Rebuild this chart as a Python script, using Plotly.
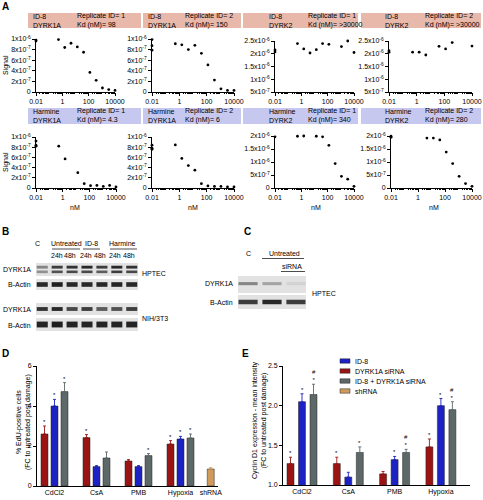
import plotly.graph_objects as go

W, H = 483, 500
FONT = "Liberation Sans"


def px(x):
    return x / W


def py(y):
    return 1 - y / H


# ---------------- Panel A data ----------------
conc_nM = [0.508, 1.52, 4.57, 13.7, 41.2, 123.5, 370.4, 1111, 3333, 10000]
zero_conc = 0.01  # no-compound controls are drawn at the axis origin

a_compound = ["ID-8", "ID-8", "ID-8", "ID-8", "Harmine", "Harmine", "Harmine", "Harmine"]
a_target = ["DYRK1A", "DYRK1A", "DYRK2", "DYRK2", "DYRK1A", "DYRK1A", "DYRK2", "DYRK2"]
a_replicate = ["1", "2", "1", "2", "1", "2", "1", "2"]
a_kd = ["98", "150", ">30000", ">30000", "4.3", "6", "340", "280"]

a_ctrl = [
    [9.8e-7, 9.6e-7],
    [9.9e-7, 8.75e-7, 7.9e-7],
    [2.15e-6, 2.07e-6],
    [2.12e-6, 2.06e-6],
    [9.2e-7, 8.4e-7, 8.2e-7],
    [8.4e-7, 7.8e-7, 7.6e-7],
    [2.01e-6, 1.97e-6],
    [1.99e-6, 1.95e-6],
]
a_signal = [
    [9.9e-7, 8.4e-7, 9.2e-7, 8.5e-7, 7.5e-7, 3.7e-7, 2.2e-7, 7.5e-8, 4.5e-8, 3.0e-8],
    [9.1e-7, 8.9e-7, 8.0e-7, 8.8e-7, 7.3e-7, 5.1e-7, 2.25e-7, 6.0e-8, 3.0e-8, 3.0e-8],
    [2.4e-6, 2.19e-6, 2.03e-6, 2.16e-6, 2.4e-6, 2.37e-6, 2.55e-6, 2.28e-6, 2.5e-6, 2.05e-6],
    [2.06e-6, 2.06e-6, 1.95e-6, 2.58e-6, 2.29e-6, 2.19e-6, 2.44e-6, None, 2.56e-6, 2.3e-6],
    [8.2e-7, 5.7e-7, None, 3.0e-7, 8.5e-8, 4.5e-8, 5.0e-8, 3.0e-8, 5.0e-8, 2.0e-8],
    [8.45e-7, 5.8e-7, 4.4e-7, 3.5e-7, 8.5e-8, 4.0e-8, 3.0e-8, 3.0e-8, 2.0e-8, 2.0e-8],
    [1.99e-6, 2.0e-6, None, 1.99e-6, 1.97e-6, 1.64e-6, 9.4e-7, 4.5e-7, 3.4e-7, 6.5e-8],
    [None, None, 1.92e-6, 1.92e-6, 1.85e-6, 1.38e-6, 9.4e-7, 4.5e-7, 1.7e-7, 6.5e-8],
]

a_xtickvals = [0.01, 1, 100, 10000]
a_xticktext = ["0.01", "1", "100", "10000"]

yt_1e6 = [0, 2e-7, 4e-7, 6e-7, 8e-7, 1e-6]
yt_1e6_text = ["0", "2x10<sup>-7</sup>", "4x10<sup>-7</sup>", "6x10<sup>-7</sup>",
               "8x10<sup>-7</sup>", "1x10<sup>-6</sup>"]
yt_25e6 = [5e-7, 1e-6, 1.5e-6, 2e-6, 2.5e-6]
yt_25e6_text = ["5x10<sup>-7</sup>", "1x10<sup>-6</sup>", "1.5x10<sup>-6</sup>",
                "2x10<sup>-6</sup>", "2.5x10<sup>-6</sup>"]
yt_2e6 = [0, 5e-7, 1e-6, 1.5e-6, 2e-6]
yt_2e6_text = ["0", "5x10<sup>-7</sup>", "1x10<sup>-6</sup>", "1.5x10<sup>-6</sup>",
               "2x10<sup>-6</sup>"]

# ---------------- Panel B / C blot data (band darkness 0..1) ----------------
b_lane_labels = ["C", "24h", "48h", "24h", "48h", "24h", "48h"]
b_group_labels = ["Untreated", "ID-8", "Harmine"]
b_hptec_dyrk_upper = [0.45, 0.8, 0.85, 0.9, 0.8, 0.9, 0.85]
b_hptec_dyrk_lower = [0.4, 0.7, 0.75, 0.75, 0.65, 0.8, 0.75]
b_hptec_actin = [0.9, 0.95, 0.9, 0.9, 0.9, 0.92, 0.9]
b_nih_dyrk = [0.85, 0.9, 0.75, 0.8, 0.65, 0.7, 0.8]
b_nih_actin = [0.92, 0.95, 0.92, 0.92, 0.92, 0.92, 0.92]

c_lane_labels = ["C", "Untreated", "siRNA"]
c_dyrk = [0.45, 0.3, 0.08]
c_actin = [0.8, 0.9, 0.8]

# ---------------- Panel D data ----------------
d_cats = ["CdCl2", "CsA", "PMB", "Hypoxia", "shRNA"]
d_red = [2.6, 2.42, 1.25, 2.1]
d_red_err = [0.4, 0.15, 0.07, 0.17]
d_blue = [4.0, 0.97, 0.97, 2.35]
d_blue_err = [0.33, 0.05, 0.05, 0.13]
d_gray = [4.72, 1.4, 1.52, 2.4]
d_gray_err = [0.45, 0.3, 0.1, 0.2]
d_tan = [0.85]
d_tan_err = [0.07]
d_red_mark = ["*", "*", "", "*"]
d_blue_mark = ["*", "", "", "*"]
d_gray_mark = ["*", "", "*", "*"]

# ---------------- Panel E data ----------------
e_cats = ["CdCl2", "CsA", "PMB", "Hypoxia"]
e_red = [1.27, 1.27, 1.14, 1.48]
e_red_err = [0.08, 0.08, 0.03, 0.1]
e_blue = [2.05, 1.1, 1.32, 2.0]
e_blue_err = [0.1, 0.06, 0.04, 0.09]
e_gray = [2.14, 1.41, 1.41, 1.95]
e_gray_err = [0.13, 0.07, 0.04, 0.1]
e_red_mark = ["*", "*", "", "*"]
e_blue_mark = ["*", "", "*", "*"]
e_gray_mark = ["#<br>*", "*", "#<br>*", "#<br>*"]

legend_names = ["ID-8", "DYRK1A siRNA", "ID-8 + DYRK1A siRNA", "shRNA"]

# ---------------- styles ----------------
RED = "#9b1414"
BLUE = "#1c22c4"
GRAY = "#5d6868"
TAN = "#d09a5c"
SALMON = "#e8b8ab"
LAVENDER = "#c6c8f0"

fig = go.Figure()
layout = dict(
    template="none",
    width=W, height=H, margin=dict(l=0, r=0, t=0, b=0),
    paper_bgcolor="white", plot_bgcolor="white", showlegend=False,
    barmode="overlay", font=dict(family=FONT, size=7, color="black"),
)
shapes = []
anns = []


def sfx(n):
    return "" if n == 1 else str(n)


def add_axes(n, x0, x1, ytop, ybot, xa, ya):
    layout["xaxis" + sfx(n)] = dict(domain=[px(x0), px(x1)], anchor="y" + sfx(n), **xa)
    layout["yaxis" + sfx(n)] = dict(domain=[py(ybot), py(ytop)], anchor="x" + sfx(n), **ya)


def text(x, y, s, size=7, xanchor="center", yanchor="middle", **kw):
    anns.append(dict(x=px(x), y=py(y), xref="paper", yref="paper", text=s, showarrow=False,
                     font=dict(size=size, family=FONT, color="black"),
                     xanchor=xanchor, yanchor=yanchor, **kw))


TF = dict(size=7, family=FONT, color="black")
AX = dict(showline=True, linecolor="black", linewidth=0.8, ticks="outside", ticklen=3,
          tickwidth=0.8, tickcolor="black", showgrid=False, zeroline=False,
          tickfont=TF, fixedrange=True)

# ---------------- Panel A ----------------
minor_vals = [m * 10 ** e for e in range(-2, 4) for m in range(2, 10)]
a_geom = [
    (36, 115, 39, 92, [0, 1e-6], yt_1e6, yt_1e6_text),
    (152, 234, 39, 92, [0, 1e-6], yt_1e6, yt_1e6_text),
    (275, 354, 41, 92, [5e-7, 2.5e-6], yt_25e6, yt_25e6_text),
    (389, 472, 41, 92, [5e-7, 2.5e-6], yt_25e6, yt_25e6_text),
    (36, 116, 137, 188, [0, 1e-6], yt_1e6, yt_1e6_text),
    (152, 234, 137, 188, [0, 1e-6], yt_1e6, yt_1e6_text),
    (275, 354, 136, 188, [0, 2e-6], yt_2e6, yt_2e6_text),
    (391, 472, 136, 188, [0, 2e-6], yt_2e6, yt_2e6_text),
]
header_boxes = [(28, 141), (143, 241), (243, 358), (361, 481)]
header_t1 = [3, 3, 24, 22]
header_t2 = [47, 40, 63, 62]

for i in range(8):
    n = i + 1
    x0, x1, yt, yb, yr, tv, tt = a_geom[i]
    add_axes(n, x0, x1, yt, yb,
             dict(AX, type="log", range=[-2, 4], tickvals=a_xtickvals, ticktext=a_xticktext,
                  ticklen=3,
                  minor=dict(tickvals=minor_vals, ticks="outside", ticklen=1.5,
                             tickcolor="black", tickwidth=0.6)),
             dict(AX, range=yr, tickvals=tv, ticktext=tt))
    fig.add_trace(go.Scatter(
        x=[zero_conc] * len(a_ctrl[i]) + conc_nM, y=a_ctrl[i] + a_signal[i],
        mode="markers", marker=dict(size=2.8, color="black"), cliponaxis=False,
        xaxis="x" + sfx(n), yaxis="y" + sfx(n), hoverinfo="skip"))

    # header boxes
    row = i // 4
    hx0, hx1 = header_boxes[i % 4]
    hy0, hy1 = (13, 28) if row == 0 else (108, 124)
    shapes.append(dict(type="rect", xref="paper", yref="paper", x0=px(hx0), x1=px(hx1),
                       y0=py(hy1), y1=py(hy0), fillcolor=SALMON if row == 0 else LAVENDER,
                       line=dict(width=0), layer="below"))
    yc = (hy0 + hy1) / 2
    text(hx0 + header_t1[i % 4], yc, f"{a_compound[i]}<br>{a_target[i]}", xanchor="left", align="left")
    text(hx0 + header_t2[i % 4], yc, f"Replicate ID= {a_replicate[i]}<br>Kd (nM)= {a_kd[i]}",
         xanchor="left", align="left")

text(6, 65, "Signal", textangle=-90)
text(6, 162, "Signal", textangle=-90)
for xc in [75, 193, 316, 434]:
    text(xc, 208, "nM")


# ---------------- Blots (B & C) ----------------
def blot(n, x0, x1, ytop, ybot, nl, bands, lane_w=0.74):
    # bands: list of (darkness list, center, thickness)
    add_axes(n, x0, x1, ytop, ybot,
             dict(visible=False, range=[-0.42, nl - 0.58], fixedrange=True),
             dict(visible=False, range=[0, 1], fixedrange=True))
    shapes.append(dict(type="rect", xref="x" + sfx(n) + " domain", yref="y" + sfx(n) + " domain",
                       x0=0, x1=1, y0=0, y1=1, fillcolor="#e2e2e2", line=dict(width=0),
                       layer="below"))
    xs, ys, bs, cs = [], [], [], []
    for dark, center, thick in bands:
        for j, d in enumerate(dark):
            xs.append(j)
            ys.append(thick)
            bs.append(center - thick / 2)
            cs.append(f"rgba(20,20,20,{d:.2f})")
    fig.add_trace(go.Bar(x=xs, y=ys, base=bs, width=lane_w, marker=dict(color=cs, line=dict(width=0)),
                         xaxis="x" + sfx(n), yaxis="y" + sfx(n), hoverinfo="skip"))


blot(9, 36, 138, 263, 276, 7, [(b_hptec_dyrk_upper, 0.68, 0.22), (b_hptec_dyrk_lower, 0.32, 0.2)])
blot(10, 36, 138, 279, 290, 7, [(b_hptec_actin, 0.5, 0.42)])
blot(11, 36, 138, 303, 315, 7, [(b_nih_dyrk, 0.5, 0.32)])
blot(12, 36, 138, 318, 331, 7, [(b_nih_actin, 0.5, 0.45)])
blot(13, 238, 306, 276, 293, 3, [(c_dyrk, 0.55, 0.18)], lane_w=0.8)
blot(14, 238, 306, 295, 309, 3, [(c_actin, 0.5, 0.32)], lane_w=0.8)

# B labels
text(37, 243, b_lane_labels[0])
for xc, g in zip([66, 91, 123], b_group_labels):
    text(xc, 243, g)
for xa, xb in [(52, 80), (83, 100), (110, 137)]:
    shapes.append(dict(type="line", xref="paper", yref="paper", x0=px(xa), x1=px(xb),
                       y0=py(249), y1=py(249), line=dict(color="black", width=0.7)))
for xc, lab in zip([57, 70, 86, 100, 115, 129], b_lane_labels[1:]):
    text(xc, 255.5, lab)
text(33, 269, "DYRK1A", xanchor="right")
text(33, 284, "B-Actin", xanchor="right")
text(33, 309, "DYRK1A", xanchor="right")
text(33, 325, "B-Actin", xanchor="right")
text(140, 273, "HPTEC", xanchor="left")
text(140, 318, "NIH/3T3", xanchor="left")

# C labels
text(248, 253, c_lane_labels[0])
text(284, 253, c_lane_labels[1])
shapes.append(dict(type="line", xref="paper", yref="paper", x0=px(262), x1=px(304),
                   y0=py(258.5), y1=py(258.5), line=dict(color="black", width=0.7)))
text(292, 266, c_lane_labels[2])
shapes.append(dict(type="line", xref="paper", yref="paper", x0=px(281), x1=px(305),
                   y0=py(271.5), y1=py(271.5), line=dict(color="black", width=0.7)))
text(235, 283, "DYRK1A", xanchor="right")
text(235, 302, "B-Actin", xanchor="right")
text(310, 293, "HPTEC", xanchor="left")

# panel letters
for lx, ly, L in [(5, 6, "A"), (5, 232, "B"), (247, 232, "C"), (5, 353, "D"), (245, 353, "E")]:
    text(lx, ly, f"<b>{L}</b>", size=10)

# ---------------- Panel D ----------------
d_centers = [0, 1, 2, 3, 3.72]
d_off, d_w = 10 / 42, 7 / 42
add_axes(15, 37, 218, 366, 486,
         dict(AX, range=[-0.417, 3.893], tickvals=d_centers, ticktext=d_cats, ticks=""),
         dict(AX, range=[0, 6], tickvals=[0, 2, 4, 6]))


def bars(n, xs, ys, errs, color, marks, w):
    fig.add_trace(go.Bar(
        x=xs, y=ys, width=w, marker=dict(color=color, line=dict(color="#222", width=0.5)),
        error_y=dict(type="data", array=errs, arrayminus=[0] * len(errs), symmetric=False,
                     color=color, thickness=0.9, width=1.5),
        xaxis="x" + sfx(n), yaxis="y" + sfx(n), hoverinfo="skip"))
    for x, y, e, m in zip(xs, ys, errs, marks):
        if m:
            anns.append(dict(x=x, y=y + e, xref="x" + sfx(n), yref="y" + sfx(n), text=m,
                             showarrow=False, yanchor="bottom", yshift=-1,
                             font=dict(size=6, family=FONT, color="black")))


bars(15, [c - d_off for c in d_centers[:4]], d_red, d_red_err, RED, d_red_mark, d_w)
bars(15, d_centers[:4], d_blue, d_blue_err, BLUE, d_blue_mark, d_w)
bars(15, [c + d_off for c in d_centers[:4]], d_gray, d_gray_err, GRAY, d_gray_mark, d_w)
bars(15, d_centers[4:], d_tan, d_tan_err, TAN, [""], d_w)
text(23, 422, "% EdU-positive cells<br>(FC to untreated post damage)", textangle=-90)

# ---------------- Panel E ----------------
e_centers = [0, 1, 2, 3]
e_unit = 46.3
e_off, e_w = 11.5 / e_unit, 7 / e_unit
add_axes(16, 283, 470, 366, 485,
         dict(AX, range=[-19 / e_unit, -19 / e_unit + 187 / e_unit], tickvals=e_centers,
              ticktext=e_cats, ticks=""),
         dict(AX, range=[1.0, 2.5], tickvals=[1.0, 1.5, 2.0, 2.5],
              ticktext=["1.0", "1.5", "2.0", "2.5"]))
bars(16, [c - e_off for c in e_centers], e_red, e_red_err, RED, e_red_mark, e_w)
bars(16, e_centers, e_blue, e_blue_err, BLUE, e_blue_mark, e_w)
bars(16, [c + e_off for c in e_centers], e_gray, e_gray_err, GRAY, e_gray_mark, e_w)
text(259, 420, "Cyclin D1 expression - mean intensity<br>(FC to untreated post damage)",
     textangle=-90)

# manual legend
for k, (name, col) in enumerate(zip(legend_names, [BLUE, RED, GRAY, TAN])):
    yc = 361 + 10 * k
    shapes.append(dict(type="rect", xref="paper", yref="paper", x0=px(340), x1=px(350),
                       y0=py(yc + 2.2), y1=py(yc - 2.2), fillcolor=col,
                       line=dict(color="#222", width=0.5)))
    text(353, yc, name, xanchor="left")

layout["shapes"] = shapes
layout["annotations"] = anns
fig.update_layout(**layout)
fig.write_html("out.html", config={"displayModeBar": False},
               post_script="document.body.style.margin='0';document.body.style.overflow='hidden';")
